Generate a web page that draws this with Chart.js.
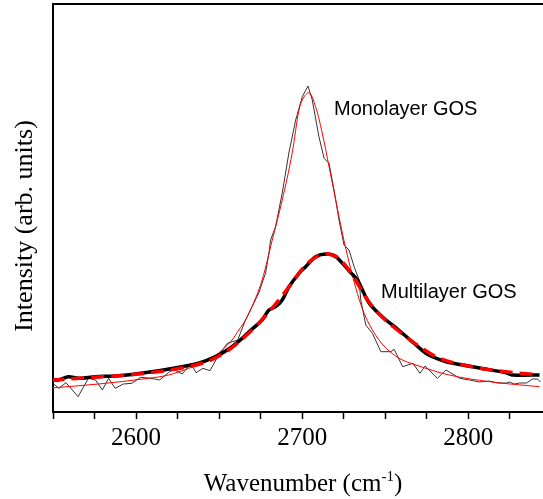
<!DOCTYPE html>
<html>
<head>
<meta charset="utf-8">
<script src="https://cdn.jsdelivr.net/npm/chart.js@4/dist/chart.umd.min.js"></script>
<style>
  html, body { margin: 0; padding: 0; background: #fff; }
  #chart { display: block; }
</style>
</head>
<body>
<canvas id="chart" width="543" height="499"></canvas>
<script>
// Monolayer GOS, measured (thin black line)
const monoX = [2549.4, 2553.6, 2557.8, 2565.1, 2571.3, 2575.6, 2579.7, 2583.5, 2587.4, 2592.3,
  2597.5, 2602.7, 2609, 2614.2, 2619.4, 2622.6, 2627.8, 2633, 2636.1, 2640.3,
  2644.5, 2648.6, 2654.9, 2661.2, 2665.9, 2673.9, 2675.9, 2678, 2680, 2681,
  2684, 2688, 2692, 2696.1, 2700.1, 2703.5, 2706.1, 2710.1, 2713.2, 2716.2,
  2719.2, 2722.2, 2725.2, 2728.2, 2731.3, 2734.3, 2735.3, 2738.3, 2742.3, 2747.4,
  2753.4, 2755.4, 2760.5, 2766.7, 2770.9, 2774, 2781.4, 2786.6, 2794.9, 2800.7,
  2806.7, 2812.7, 2817.6, 2823, 2824.8, 2827.8, 2830.8, 2835.1, 2838.7, 2841.7, 2843.5];
const monoY = [29.3, 23.7, 29.3, 15.3, 33.7, 32, 22, 33.7, 23.7, 28,
  28.7, 34.7, 33.7, 32, 39.3, 42.7, 38, 48.7, 39.3, 43.7,
  41.3, 53.7, 68.7, 72, 92, 119, 129, 139, 159, 172,
  185.3, 219, 259, 292, 315.3, 326, 312, 275.3, 253.7, 248.7,
  222, 192, 167, 162, 145.3, 132, 112, 87, 78.7, 60.3,
  60.3, 62.7, 45.3, 48.7, 38.7, 46, 33.7, 42, 33.7, 32,
  30, 31, 29, 29, 30, 28, 29, 29, 33, 33, 30];

// Monolayer GOS, fit (thin red line)
const monoFitX = [2549, 2577.4, 2607.5, 2619.6, 2631.7, 2643.8, 2651.8, 2657.8, 2661.9, 2665.9,
  2668.9, 2675.9, 2682, 2688, 2694, 2698.1, 2700.1, 2704.1, 2708.1, 2712.1,
  2716.2, 2720.2, 2724.2, 2728.2, 2732.3, 2736.3, 2740.3, 2748.2, 2758.1, 2768.5,
  2788.6, 2812.7, 2842.9];
const monoFitY = [24, 28, 33.7, 37, 43.7, 52, 62, 72, 82, 92,
  102, 132, 172, 212, 259, 302, 312, 319.3, 305.3, 279,
  245.3, 212, 179, 150, 124, 103, 88, 68, 54, 47,
  37, 30.3, 25.3];

// Multilayer GOS, measured (thick black line)
const multiX = [2549, 2553.2, 2559.3, 2565.3, 2575.4, 2587.4, 2599.5, 2613.6, 2627.6, 2637.7,
  2647.8, 2655.8, 2663.9, 2667.9, 2675.9, 2680, 2684, 2688, 2692, 2698.1,
  2702.1, 2708.1, 2715.1, 2720.2, 2725.2, 2729.3, 2733.3, 2740.3, 2748.2, 2758.1,
  2768.5, 2774.5, 2778.3, 2786.6, 2802.7, 2806.7, 2822.8, 2826.8, 2842.9];
const multiY = [33, 32, 35.3, 33.7, 35.3, 36, 38, 41.3, 45.3, 48.7,
  55.3, 63, 73.7, 80, 92, 102, 105.3, 112, 125, 138.7,
  145.3, 155.3, 158, 155.3, 147, 139.3, 132, 109, 95.3, 82,
  67, 58.7, 55.3, 50.3, 45.3, 44, 39.3, 37, 37];

// Multilayer GOS, fit (red dashed line)
const multiFitX = [2549, 2577.4, 2601.5, 2625.6, 2643.8, 2655.8, 2667.9, 2680, 2692, 2701.1,
  2708.9, 2715, 2721, 2728.2, 2740.3, 2748.2, 2758.1, 2770.2, 2782.2, 2800.3,
  2818.4, 2842.9];
const multiFitY = [32, 35, 38, 43.5, 51, 62, 79, 100, 125, 145,
  155.5, 158, 155, 142, 110, 95, 81, 66, 54, 46,
  41, 37];

const xTickLabels = [2600, 2700, 2800];

function pts(xs, ys) {
  return xs.map((x, i) => ({ x: x, y: ys[i] }));
}

const extraText = {
  id: 'extraText',
  afterDraw(chart) {
    const ctx = chart.ctx;
    const a = chart.chartArea;
    ctx.save();
    // top frame line
    ctx.strokeStyle = '#000';
    ctx.lineWidth = 2;
    ctx.beginPath();
    ctx.moveTo(a.left, a.top);
    ctx.lineTo(a.right, a.top);
    ctx.stroke();

    ctx.fillStyle = '#000';
    ctx.textBaseline = 'alphabetic';
    ctx.textAlign = 'left';
    ctx.font = '20px "Liberation Sans", Arial, sans-serif';
    ctx.fillText('Monolayer GOS', 334, 115);
    ctx.fillText('Multilayer GOS', 381, 298);

    // x title with superscript
    const main = 'Wavenumber (cm';
    const sup = '-1';
    const close = ')';
    ctx.font = '25px "Liberation Serif", serif';
    const wMain = ctx.measureText(main).width;
    ctx.font = '15px "Liberation Serif", serif';
    const wSup = ctx.measureText(sup).width;
    ctx.font = '25px "Liberation Serif", serif';
    const wClose = ctx.measureText(close).width;
    let x0 = 303 - (wMain + wSup + wClose) / 2;
    ctx.fillText(main, x0, 491);
    ctx.font = '15px "Liberation Serif", serif';
    ctx.fillText(sup, x0 + wMain, 481);
    ctx.font = '25px "Liberation Serif", serif';
    ctx.fillText(close, x0 + wMain + wSup, 491);

    // y title
    ctx.translate(32, 226);
    ctx.rotate(-Math.PI / 2);
    ctx.textAlign = 'center';
    ctx.font = '26px "Liberation Serif", serif';
    ctx.fillText('Intensity (arb. units)', 0, 0);
    ctx.restore();
  }
};

new Chart(document.getElementById('chart'), {
  type: 'line',
  data: {
    datasets: [
      {
        label: 'Multilayer GOS fit',
        data: pts(multiFitX, multiFitY),
        borderColor: '#ff0000',
        borderWidth: 3.5,
        borderDash: [13, 7],
        cubicInterpolationMode: 'monotone',
        pointRadius: 0,
        order: 0
      },
      {
        label: 'Multilayer GOS',
        data: pts(multiX, multiY),
        borderColor: '#000000',
        borderWidth: 3.5,
        tension: 0.3,
        pointRadius: 0,
        order: 1
      },
      {
        label: 'Monolayer GOS fit',
        data: pts(monoFitX, monoFitY),
        borderColor: '#ff0000',
        borderWidth: 1,
        cubicInterpolationMode: 'monotone',
        pointRadius: 0,
        order: 2
      },
      {
        label: 'Monolayer GOS',
        data: pts(monoX, monoY),
        borderColor: '#333333',
        borderWidth: 1,
        tension: 0,
        pointRadius: 0,
        order: 3
      }
    ]
  },
  options: {
    responsive: false,
    animation: false,
    devicePixelRatio: 1,
    layout: { padding: { top: 4, right: 0, left: 0, bottom: 0 } },
    plugins: {
      legend: { display: false },
      tooltip: { enabled: false }
    },
    scales: {
      x: {
        type: 'linear',
        min: 2550,
        max: 2845,
        afterFit(scale) { scale.height = 87; },
        border: { display: true, color: '#000', width: 2 },
        grid: {
          drawOnChartArea: false,
          drawTicks: true,
          tickLength: 7,
          tickColor: '#000',
          tickWidth: 1.5
        },
        ticks: {
          stepSize: 25,
          autoSkip: false,
          includeBounds: false,
          maxRotation: 0,
          padding: 4,
          color: '#000',
          font: { family: '"Liberation Serif", "Times New Roman", serif', size: 25 },
          callback: (v) => xTickLabels.includes(v) ? String(v) : ''
        }
      },
      y: {
        type: 'linear',
        min: 0,
        max: 408,
        afterFit(scale) { scale.width = 53; },
        border: { display: true, color: '#000', width: 2 },
        grid: { display: false },
        ticks: { display: false }
      }
    }
  },
  plugins: [extraText]
});
</script>
</body>
</html>
